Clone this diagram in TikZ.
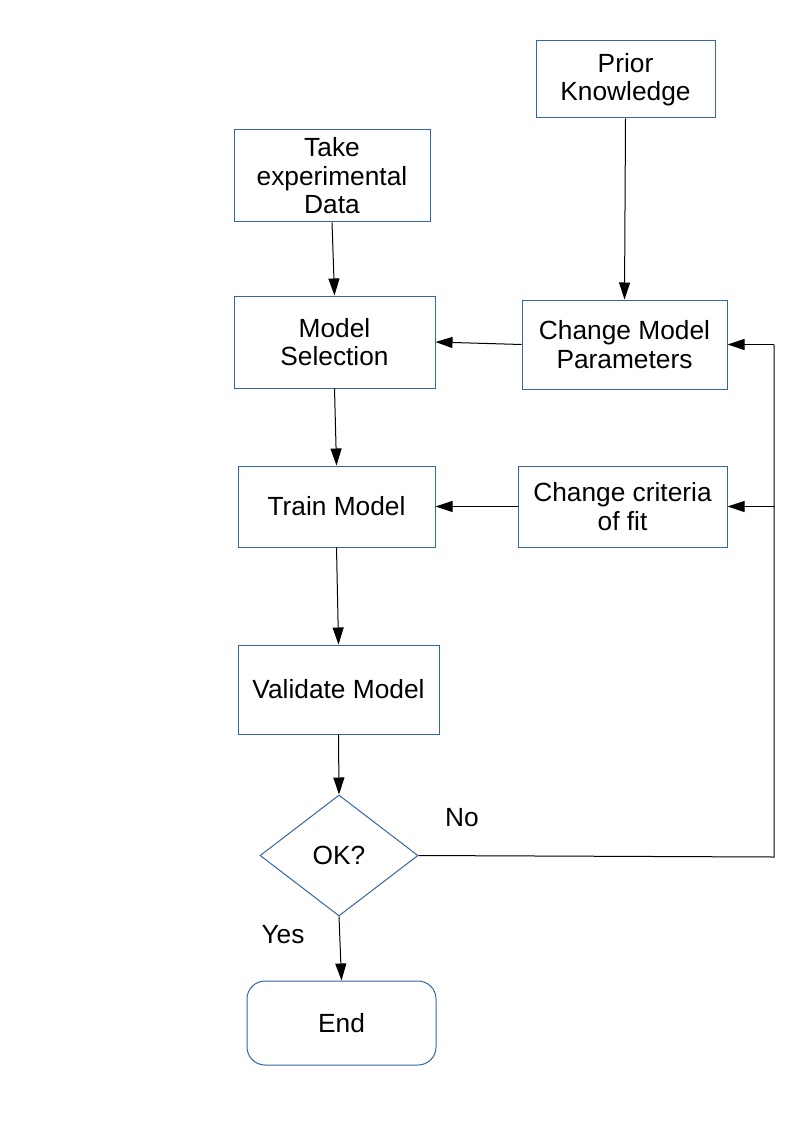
\documentclass[tikz,border=0pt]{standalone}
\usepackage{fontspec}
\setmainfont{Liberation Sans}
\usetikzlibrary{arrows.meta,shapes.geometric}
\definecolor{boxblue}{HTML}{3465A4}
\begin{document}
\begin{tikzpicture}[x=1pt,y=-1pt,
  every node/.style={font=\fontsize{26.3pt}{28.5pt}\selectfont, inner sep=0pt, align=center},
  box/.style={draw=boxblue, line width=1pt, rectangle},
  conn/.style={draw=black, line width=1pt, -{Triangle[length=17pt,width=11pt]}},
  plain/.style={draw=black, line width=1pt}]
\useasboundingbox (0,0) rectangle (794,1123);
\node[box, minimum width=179pt, minimum height=77pt] (prior) at (625.5,79.5) {\rule{0pt}{2pt}Prior\\Knowledge};
\node[box, minimum width=196pt, minimum height=92pt] (take) at (332,176) {Take\\experimental\\Data};
\node[box, minimum width=201pt, minimum height=92pt] (sel) at (334.5,342) {Model\\Selection};
\node[box, minimum width=205pt, minimum height=89pt] (cmp) at (624.5,344.5) {Change Model\\Parameters};
\node[box, minimum width=197pt, minimum height=81pt] (train) at (336.5,506.5) {Train Model};
\node[box, minimum width=209pt, minimum height=81pt] (crit) at (622.5,506.5) {Change criteria\\of fit};
\node[box, minimum width=201pt, minimum height=89pt] (val) at (338.5,689.5) {Validate Model};
\node[draw=boxblue, line width=1pt, diamond, aspect=1.3, minimum width=158pt, minimum height=121pt] (ok) at (339,855.5) {OK?};
\node[box, rounded corners=18pt, minimum width=189pt, minimum height=84pt] (end) at (341.5,1023) {End};
\node (no) at (462,818) {No};
\node (yes) at (283,935) {Yes};
\coordinate (r1) at (774,857);
\coordinate (r2) at (774,344.5);
\coordinate (r3) at (774,506.5);
\draw[conn] (take.south) -- (sel.north);
\draw[conn] (sel.south) -- (train.north);
\draw[conn] (train.south) -- (val.north);
\draw[conn] (val.south) -- (ok.north);
\draw[conn] (ok.south) -- (end.north);
\draw[conn] (prior.south) -- (cmp.north);
\draw[conn] (cmp.west) -- (sel.east);
\draw[conn] (crit.west) -- (train.east);
\draw[plain] (ok.east) -- (r1) -- (r2);
\draw[conn] (r2) -- (cmp.east);
\draw[conn] (r3) -- (crit.east);
\end{tikzpicture}
\end{document}
